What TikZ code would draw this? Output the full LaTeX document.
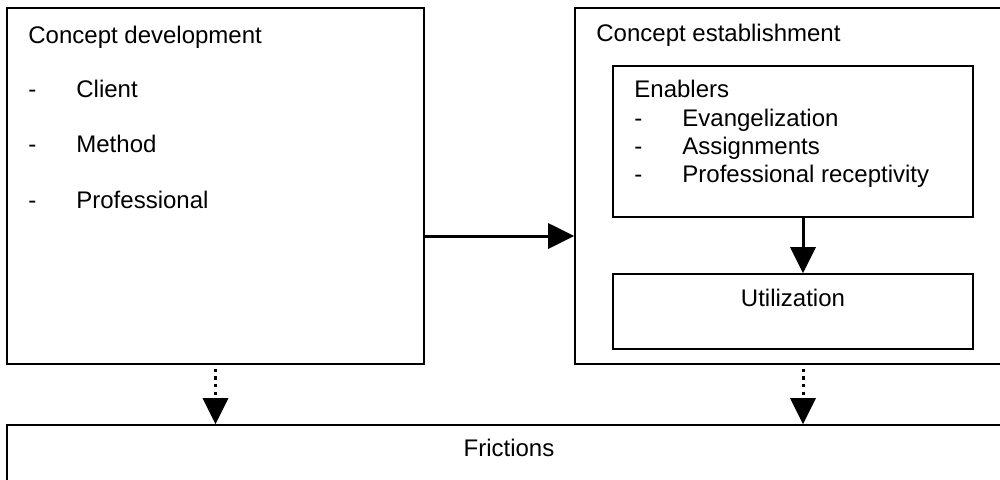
\documentclass[tikz,border=0pt]{standalone}
\usepackage{fontspec}
\setmainfont{Liberation Sans}
\usetikzlibrary{arrows.meta}
\tikzset{
    > = {Triangle[length=13pt, width=12.5pt]},
    box/.style = {draw, thick, rectangle, inner sep=0pt},
    txt/.style = {anchor=base west, inner sep=0pt, font=\fontsize{12pt}{14pt}\selectfont},
    ctxt/.style = {anchor=base, inner sep=0pt, font=\fontsize{12pt}{14pt}\selectfont},
    arr/.style = {->, line width=1.5pt},
    dotarr/.style = {->, line width=1.5pt, dash pattern=on 1.6pt off 2.2pt}
}

\begin{document}
\begin{tikzpicture}[x=0.5pt, y=-0.5pt]
    \useasboundingbox (0, 0) rectangle (1000, 479);
    \clip (0, 0) rectangle (1000, 479);

    \node[box, minimum width=208.5pt, minimum height=178pt] (dev) at (215.5, 186) {};
    \node[box, minimum width=217.5pt, minimum height=178pt] (est) at (792.5, 186) {};
    \node[box, minimum width=180pt, minimum height=75.5pt] (enab) at (793, 141.5) {};
    \node[box, minimum width=180pt, minimum height=37.5pt] (util) at (793, 311.5) {};
    \node[box, minimum width=501.5pt, minimum height=32.5pt] (fric) at (508.5, 457.5) {};

    % concept development
    \node[txt] (devtitle) at (28, 43) {Concept development};
    \node[txt] (d1) at (28, 97) {-};
    \node[txt] (client) at (76, 97) {Client};
    \node[txt] (d2) at (28, 152) {-};
    \node[txt] (method) at (76, 152) {Method};
    \node[txt] (d3) at (28, 208) {-};
    \node[txt] (prof) at (76, 208) {Professional};

    % concept establishment
    \node[txt] (esttitle) at (596, 41) {Concept establishment};
    \node[txt] (enabtitle) at (634, 97) {Enablers};
    \node[txt] (e1) at (634, 126) {-};
    \node[txt] (evang) at (682, 126) {Evangelization};
    \node[txt] (e2) at (634, 154) {-};
    \node[txt] (assign) at (682, 154) {Assignments};
    \node[txt] (e3) at (634, 182) {-};
    \node[txt] (recept) at (682, 182) {Professional receptivity};
    \node[ctxt] (utiltext) at (793, 306) {Utilization};

    \node[ctxt] (frictext) at (509, 456) {Frictions};

    \coordinate (col) at ([xshift=5pt]util.south);

    \draw[arr] ([yshift=-25pt]dev.east) -- ([yshift=-25pt]est.west);
    \draw[arr] (enab.south -| col) -- (util.north -| col);
    \draw[dotarr] ([yshift=-2pt]dev.south) -- (dev.south |- fric.north);
    \draw[dotarr] ([yshift=-2pt]est.south -| col) -- (fric.north -| col);
\end{tikzpicture}
\end{document}
